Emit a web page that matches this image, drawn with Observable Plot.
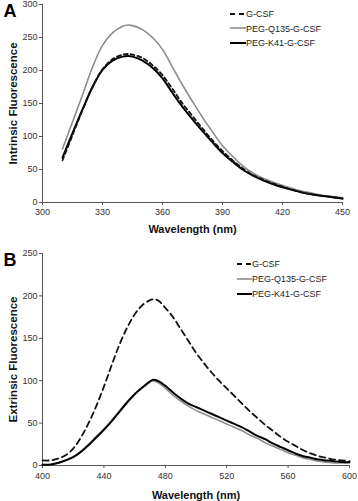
<!DOCTYPE html>
<html>
<head>
<meta charset="utf-8">
<script src="https://cdn.jsdelivr.net/npm/d3@7"></script>
<script src="https://cdn.jsdelivr.net/npm/@observablehq/plot@0.6"></script>
<style>
  html, body { margin: 0; padding: 0; background: #fff; }
  #wrap { position: relative; width: 358px; height: 501px; overflow: hidden; font-family: "Liberation Sans", Arial, sans-serif; }
  .panel { position: absolute; left: 0; }
  .legend { position: absolute; font-size: 9px; color: #222; }
  .legend .row { position: absolute; left: 0; white-space: nowrap; height: 12px; line-height: 12px; }
  .legend svg { vertical-align: middle; display: inline-block; }
  .legend span { vertical-align: middle; }
</style>
</head>
<body>
<div id="wrap">
  <div id="pa" class="panel" style="top:0"></div>
  <div id="pb" class="panel" style="top:250px"></div>
</div>
<script>
// ---- Panel A: intrinsic fluorescence ----
const wlA = [310,315,320,325,330,335,340,343,345,350,355,360,365,370,375,380,385,390,395,400,405,410,415,420,425,430,435,440,445,450];
const aGCSF = [64,102,140,175,202,217,224,225,224,219,208,193,172,150,131,112,94,78,64,52,42,35,29,24,19,15,12,10,8,6];
const aQ135 = [81,122,163,205,238,257,267,269,268,262,250,232,205,178,153,129,107,86,70,56,45,37,31,26,21,17,14,11,9,7];
const aK41  = [68,105,141,175,201,215,221,222,221,215,204,188,166,145,126,108,91,75,62,50,41,34,28,23,19,15,12,10,8,6];
const xTicksA = [300,330,360,390,420,450];
const yTicksA = [0,50,100,150,200,250,300];

// ---- Panel B: extrinsic fluorescence ----
const wlB = [400,405,410,415,420,425,430,435,440,445,450,455,460,465,470,472,475,480,485,490,495,500,505,510,515,520,525,530,535,540,545,550,555,560,565,570,575,580,585,590,595,600];
const bGCSF = [6,6,8,12,20,33,50,70,93,118,142,162,178,189,195,196,195,186,175,161,147,133,121,110,100,91,82,73,64,56,48,41,34,28,23,18,14,11,9,7,6,5];
const bQ135 = [1,1,3,6,10,17,25,34,43,53,64,75,84,92,99,100,98,91,83,76,70,65,61,57,53,49,45,41,36,32,27,23,19,15,12,9,7,5,4,3,3,3];
const bK41  = [1,1,3,6,10,16,24,33,42,52,63,74,84,92,99,101,100,94,86,79,73,69,65,61,57,53,49,45,40,35,31,26,22,18,14,11,9,7,6,5,4,4];
const xTicksB = [400,440,480,520,560,600];
const yTicksB = [0,50,100,150,200,250];

const seriesNames = ["G-CSF", "PEG-Q135-G-CSF", "PEG-K41-G-CSF"];
const seriesStyle = {
  "G-CSF": {stroke: "#111", width: 1.8},
  "PEG-Q135-G-CSF": {stroke: "#8c8c8c", width: 1.6},
  "PEG-K41-G-CSF": {stroke: "#000", width: 2}
};

function rows(wl, vals) { return wl.map((w, i) => ({wl: w, v: vals[i]})); }

function panel({wl, g, q, k, xDomain, yDomain, xTicks, yTicks, letter, yTitle, height, mt, mb, mr, dash, titleDy, tickPad}) {
  const font = "Liberation Sans, Arial, sans-serif";
  return Plot.plot({
    width: 358, height,
    marginLeft: 42, marginRight: mr, marginTop: mt, marginBottom: mb,
    x: {domain: xDomain}, y: {domain: yDomain},
    style: {fontFamily: font, fontSize: "9px", color: "#333", background: "#fff", overflow: "visible"},
    marks: [
      Plot.axisX(xTicks, {tickSize: 3, tickPadding: tickPad, label: null, stroke: "#555", fill: "#333", fontSize: 9}),
      Plot.axisY(yTicks, {tickSize: 3, tickPadding: 2, label: null, stroke: "#555", fill: "#333", fontSize: 9}),
      Plot.ruleY([yDomain[0]], {stroke: "#555", strokeWidth: 1}),
      Plot.ruleX([xDomain[0]], {stroke: "#555", strokeWidth: 1}),
      Plot.line(rows(wl, q), {x: "wl", y: "v", stroke: seriesStyle["PEG-Q135-G-CSF"].stroke, strokeWidth: seriesStyle["PEG-Q135-G-CSF"].width, curve: "catmull-rom"}),
      Plot.line(rows(wl, k), {x: "wl", y: "v", stroke: seriesStyle["PEG-K41-G-CSF"].stroke, strokeWidth: seriesStyle["PEG-K41-G-CSF"].width, curve: "catmull-rom"}),
      Plot.line(rows(wl, g), {x: "wl", y: "v", stroke: seriesStyle["G-CSF"].stroke, strokeWidth: seriesStyle["G-CSF"].width, strokeDasharray: dash, curve: "catmull-rom"}),
      Plot.text(["Wavelength (nm)"], {frameAnchor: "bottom", dy: titleDy, textAnchor: "middle", lineAnchor: "middle", fontSize: 11, fontWeight: "bold", fill: "#111"}),
      Plot.text([yTitle], {frameAnchor: "left", dx: -29, rotate: -90, textAnchor: "middle", lineAnchor: "middle", fontSize: 11.5, fontWeight: "bold", fill: "#111"}),
      Plot.text([letter], {frameAnchor: "top-left", dx: -39, dy: 7, textAnchor: "start", lineAnchor: "middle", fontSize: 18, fontWeight: "bold", fill: "#000"})
    ]
  });
}

document.getElementById("pa").appendChild(panel({
  wl: wlA, g: aGCSF, q: aQ135, k: aK41,
  xDomain: [300, 450], yDomain: [0, 300], xTicks: xTicksA, yTicks: yTicksA,
  letter: "A", yTitle: "Intrinsic Fluorescence",
  height: 250, mt: 4, mb: 48, mr: 16, dash: "4,3", titleDy: 27, tickPad: 3
}));
document.getElementById("pb").appendChild(panel({
  wl: wlB, g: bGCSF, q: bQ135, k: bK41,
  xDomain: [400, 600], yDomain: [0, 250], xTicks: xTicksB, yTicks: yTicksB,
  letter: "B", yTitle: "Extrinsic Fluorescence",
  height: 251, mt: 3, mb: 36, mr: 9, dash: "6,4", titleDy: 30, tickPad: 4
}));

function legend(left, top, sampleLen, spacing) {
  const div = document.createElement("div");
  div.className = "legend";
  div.style.left = left + "px";
  div.style.top = top + "px";
  seriesNames.forEach((name, i) => {
    const st = seriesStyle[name];
    const row = document.createElement("div");
    row.className = "row";
    row.style.top = (i * spacing) + "px";
    const dash = name === "G-CSF" ? ' stroke-dasharray="5,4"' : "";
    row.innerHTML = `<svg width="${sampleLen}" height="12"><line x1="0" y1="6" x2="${sampleLen}" y2="6" stroke="${st.stroke}" stroke-width="${st.width}"${dash}/></svg><span>${name}</span>`;
    div.appendChild(row);
  });
  document.getElementById("wrap").appendChild(div);
}
legend(230, 7, 16, 14.5);
legend(237, 257, 15, 15);
</script>
</body>
</html>
